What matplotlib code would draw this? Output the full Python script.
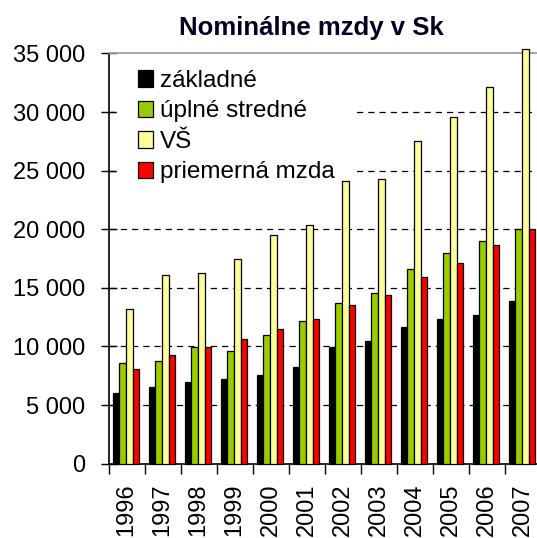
import numpy as np
import matplotlib.pyplot as plt
from matplotlib.patches import Patch

years = ["1996", "1997", "1998", "1999", "2000", "2001",
         "2002", "2003", "2004", "2005", "2006", "2007"]
zakladne = [6050, 6560, 6940, 7240, 7560, 8270, 9970, 10490, 11680, 12360, 12710, 13870]
uplne_stredne = [8560, 8750, 9920, 9610, 10950, 12140, 13700, 14530, 16600, 17940, 18990, 19990]
vs = [13170, 16090, 16260, 17460, 19510, 20330, 24100, 24280, 27530, 29600, 32160, 35350]
priemerna = [8070, 9270, 9920, 10610, 11480, 12310, 13530, 14360, 15920, 17090, 18630, 19990]

series = [zakladne, uplne_stredne, vs, priemerna]
labels = ["základné", "úplné stredné", "VŠ", "priemerná mzda"]
colors = ["#000000", "#99CC00", "#FFFF99", "#FF0000"]

y_ticks = [0, 5000, 10000, 15000, 20000, 25000, 30000, 35000]
y_ticklabels = ["0", "5 000", "10 000", "15 000", "20 000", "25 000", "30 000", "35 000"]

plt.rcParams['font.family'] = ['Liberation Sans', 'DejaVu Sans']

W, H = 537, 538
fig = plt.figure(figsize=(W / 100, H / 100), dpi=100)
ax = fig.add_axes([108.5 / W, (H - 463.6) / H, 432 / W, 410.2 / H])

x = np.arange(len(years))
w = 0.185
for i, (vals, c) in enumerate(zip(series, colors)):
    ax.bar(x + 0.485 + (i - 1.5) * w, vals, width=w, color=c, edgecolor="black",
           linewidth=0.9, zorder=3, clip_on=False)

ax.set_xlim(0, len(years))
ax.set_ylim(0, 35000)

# dashed grid behind bars
for yv in y_ticks[1:-1]:
    ax.axhline(yv, color="black", linewidth=0.9, dashes=(5, 4), zorder=1)

ax.set_yticks(y_ticks)
ax.set_yticklabels(y_ticklabels)
ax.tick_params(axis="y", direction="inout", length=11, width=1, pad=11, labelsize=17)

ax.set_xticks(np.arange(len(years) + 1))
ax.set_xticklabels([])
ax.set_xticks(x + 0.5, minor=True)
ax.set_xticklabels(years, minor=True, rotation=90)
ax.tick_params(axis="x", which="major", direction="out", length=7, width=1)
ax.tick_params(axis="x", which="minor", length=0, pad=14, labelsize=17)

ax.spines["right"].set_visible(False)
ax.spines["top"].set_color("#a0a0a0")
ax.spines["top"].set_linewidth(1.3)
ax.spines["left"].set_linewidth(1.2)
ax.spines["bottom"].set_linewidth(1.2)

handles = [Patch(facecolor=c, edgecolor="black", linewidth=0.9) for c in colors]
leg = ax.legend(handles, labels, loc="upper left", bbox_to_anchor=(0.0197, 1.010),
                fontsize=17.5, frameon=True, fancybox=False, framealpha=1,
                edgecolor="white", facecolor="white", handlelength=0.65,
                handleheight=0.65, handletextpad=0.27, labelspacing=0.35,
                borderpad=0.85, borderaxespad=0)
leg.set_zorder(2)

fig.text(311 / W, 1 - 28 / H, "Nominálne mzdy v Sk", ha="center", va="center",
         fontsize=18.5, fontweight="bold", color="#000022")

fig.savefig("out.png", dpi=100)
